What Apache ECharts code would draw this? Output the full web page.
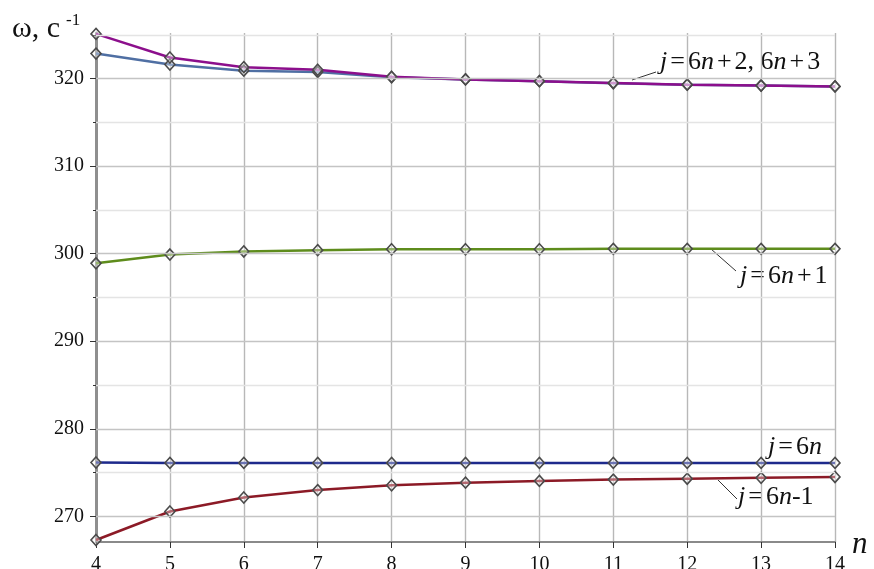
<!DOCTYPE html>
<html>
<head>
<meta charset="utf-8">
<script src="https://cdn.jsdelivr.net/npm/echarts@6/dist/echarts.min.js"></script>
<style>
html,body{margin:0;padding:0;background:#fff;}
#chart{width:874px;height:569px;}
</style>
</head>
<body>
<div id="chart"></div>
<script>
// ---- data ----
const nValues = [4, 5, 6, 7, 8, 9, 10, 11, 12, 13, 14];
const omega6n2 = [325.1, 322.4, 321.3, 321.0, 320.2, 319.9, 319.7, 319.5, 319.3, 319.2, 319.1];
const omega6n3 = [322.85, 321.6, 320.9, 320.75, 320.15, 319.9, 319.7, 319.45, 319.3, 319.2, 319.1];
const omega6n1 = [298.9, 299.9, 300.25, 300.4, 300.5, 300.5, 300.5, 300.55, 300.55, 300.55, 300.55];
const omega6n = [276.15, 276.1, 276.1, 276.1, 276.1, 276.1, 276.1, 276.1, 276.1, 276.1, 276.1];
const omega6nm1 = [267.3, 270.55, 272.15, 273.0, 273.55, 273.85, 274.05, 274.2, 274.3, 274.4, 274.5];
const yMajorTicks = [270, 280, 290, 300, 310, 320];
const yMinorTicks = [275, 285, 295, 305, 315, 325];
const xTicks = [4, 5, 6, 7, 8, 9, 10, 11, 12, 13, 14];

const FONT = '"Liberation Serif", "Times New Roman", serif';
const pairs = arr => nValues.map((n, i) => [n, arr[i]]);

function lineSeries(name, data, color) {
  return {
    name: name,
    type: 'line',
    data: pairs(data),
    clip: false,
    z: 3,
    symbol: 'diamond',
    symbolSize: [10, 11],
    showAllSymbol: true,
    lineStyle: { color: color, width: 2.5 },
    itemStyle: { color: 'rgba(255,255,255,0.35)', borderColor: '#4a4a4a', borderWidth: 1.6 },
    emphasis: { disabled: true },
    silent: true
  };
}

const RICH = {
  i: { fontStyle: 'italic', fontFamily: FONT, fontSize: 26, fill: '#111' },
  r: { fontFamily: FONT, fontSize: 26, fill: '#111' },
  o: { fontFamily: FONT, fontSize: 26, fill: '#111', padding: [0, 3, 0, 3] }
};

const chart = echarts.init(document.getElementById('chart'), null, { renderer: 'canvas' });
const gridLines = yMajorTicks.map(v => ({ yAxis: v, lineStyle: { color: '#c4c4c4', width: 1.4, type: 'solid' } }))
  .concat(yMinorTicks.map(v => ({ yAxis: v, lineStyle: { color: '#e4e4e4', width: 1.4, type: 'solid' } })));

chart.setOption({
  animation: false,
  backgroundColor: '#ffffff',
  grid: { left: 96, right: 39, top: 33, bottom: 27, containLabel: false, outerBoundsMode: 'none' },
  xAxis: {
    type: 'value', min: 4, max: 14, interval: 1,
    axisLine: { show: true, lineStyle: { color: '#8a8a8a', width: 2 } },
    axisTick: { show: true, length: 6, lineStyle: { color: '#333', width: 1 } },
    axisLabel: { show: true, color: '#111', fontFamily: FONT, fontSize: 20, margin: 13,
      customValues: xTicks },
    splitLine: { show: true, lineStyle: { color: '#b8b8b8', width: 1.4 } }
  },
  yAxis: [{
    type: 'value', min: 267.07, max: 325.2,
    axisLine: { show: true, onZero: false, lineStyle: { color: '#8f8f8f', width: 3 } },
    axisTick: { show: true, length: 6, customValues: yMajorTicks, lineStyle: { color: '#333', width: 1 } },
    axisLabel: { show: true, customValues: yMajorTicks, color: '#111', fontFamily: FONT, fontSize: 20, margin: 12 },
    splitLine: { show: false }
  }, {
    type: 'value', min: 267.07, max: 325.2, position: 'left',
    axisLine: { show: false },
    axisTick: { show: true, length: 3, customValues: yMinorTicks, lineStyle: { color: '#333', width: 1 } },
    axisLabel: { show: false },
    splitLine: { show: false }
  }],
  series: [
    {
      name: 'grid', type: 'line', data: [], z: 1, silent: true,
      markLine: { silent: true, symbol: ['none', 'none'], label: { show: false }, animation: false, data: gridLines }
    },
    lineSeries('j=6n+3', omega6n3, '#4f6fa3'),
    lineSeries('j=6n+2', omega6n2, '#8c0f8c'),
    lineSeries('j=6n+1', omega6n1, '#5e8c1c'),
    lineSeries('j=6n', omega6n, '#1e2a8c'),
    lineSeries('j=6n-1', omega6nm1, '#8c1a26')
  ],
  graphic: [
    { type: 'text', left: 12, top: 14, silent: true, style: { text: 'ω, c', font: '30px ' + FONT, fill: '#111' } },
    { type: 'text', left: 66, top: 12, silent: true, style: { text: '-1', font: '17px ' + FONT, fill: '#111' } },
    { type: 'text', left: 852, top: 529, silent: true, style: { text: 'n', font: 'italic 31px ' + FONT, fill: '#111' } },
    { type: 'text', left: 660, top: 49, silent: true, style: {
      rich: RICH, text: '{i|j}{o|=}{r|6}{i|n}{o|+}{r|2, 6}{i|n}{o|+}{r|3}' } },
    { type: 'text', left: 740, top: 263, silent: true, style: {
      rich: RICH, text: '{i|j}{o|=}{r|6}{i|n}{o|+}{r|1}' } },
    { type: 'text', left: 768, top: 434, silent: true, style: {
      rich: RICH, text: '{i|j}{o|=}{r|6}{i|n}' } },
    { type: 'text', left: 738, top: 484, silent: true, style: {
      rich: RICH, text: '{i|j}{o|=}{r|6}{i|n}{r|-1}' } },
    { type: 'line', silent: true, shape: { x1: 632, y1: 80, x2: 656, y2: 72 }, style: { stroke: '#333', lineWidth: 1 } },
    { type: 'line', silent: true, shape: { x1: 711, y1: 249, x2: 736, y2: 271 }, style: { stroke: '#333', lineWidth: 1 } },
    { type: 'line', silent: true, shape: { x1: 718, y1: 480, x2: 737, y2: 499 }, style: { stroke: '#333', lineWidth: 1 } }
  ]
});
</script>
</body>
</html>
